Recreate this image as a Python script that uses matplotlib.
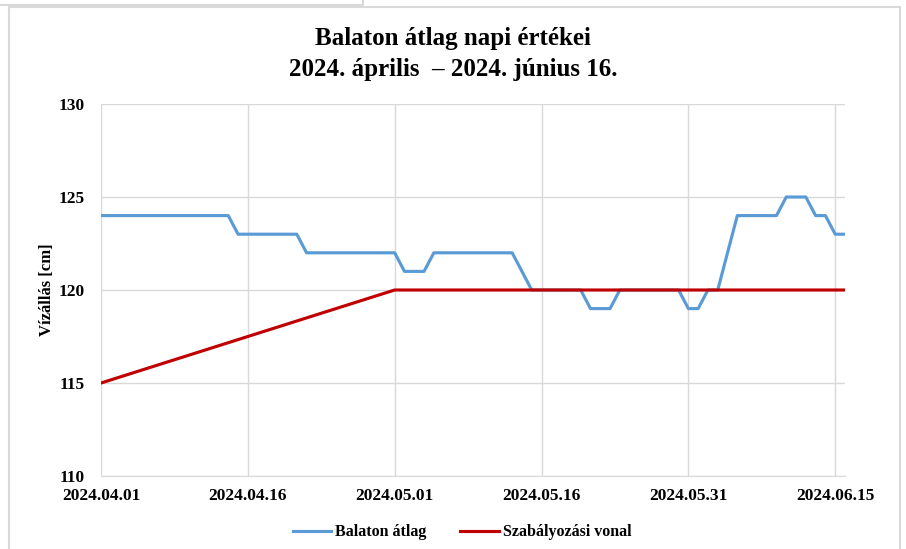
import numpy as np
import pandas as pd
import matplotlib
matplotlib.use("Agg")
import matplotlib.pyplot as plt
import matplotlib.dates as mdates
from matplotlib.lines import Line2D
from matplotlib.patches import Rectangle

# Balaton átlag napi értékei, 2024.04.01 - 2024.06.16
dates = pd.date_range("2024-04-01", "2024-06-16", freq="D")
balaton = ([124] * 14 + [123] * 7 + [122] * 10 + [121] * 3 + [122] * 9 + [121]
           + [120] * 6 + [119] * 3 + [120] * 7 + [119] * 2 + [120] * 2 + [122]
           + [124] * 5 + [125] * 3 + [124] * 2 + [123] * 2)

# Szabályozási vonal (töréspontok)
reg_dates = pd.to_datetime(["2024-04-01", "2024-05-01", "2024-06-16"])
reg_values = [115, 120, 120]

tick_dates = pd.to_datetime(["2024-04-01", "2024-04-16", "2024-05-01",
                             "2024-05-16", "2024-05-31", "2024-06-15"])
y_ticks = [110, 115, 120, 125, 130]

plt.rcParams['font.family'] = ['Liberation Serif', 'DejaVu Serif']
plt.rcParams['font.weight'] = 'bold'

fig = plt.figure(figsize=(9.06, 5.49), dpi=100)
ax = fig.add_axes([101 / 906, 1 - 476 / 549, 744 / 906, 372 / 549])

ax.plot(dates, balaton, color="#5b9bd5", lw=2.25, label="Balaton átlag",
        solid_joinstyle="round")
ax.plot(reg_dates, reg_values, color="#c00000", lw=2.25, label="Szabályozási vonal")

ax.set_xlim(dates[0], dates[-1])
ax.set_ylim(110, 130)
ax.set_yticks(y_ticks)
ax.set_xticks(tick_dates)
ax.xaxis.set_major_formatter(mdates.DateFormatter("%Y.%m.%d"))
ax.grid(True, color="#d9d9d9", lw=1)
ax.set_axisbelow(True)
for s in ["top", "right", "left"]:
    ax.spines[s].set_visible(False)
ax.spines["bottom"].set_color("#d9d9d9")
ax.tick_params(length=0, labelsize=12.5, pad=9)
ax.tick_params(axis="y", pad=12)
for lab in ax.get_xticklabels() + ax.get_yticklabels():
    lab.set_fontweight("bold")

ax.set_ylabel("Vízállás [cm]", fontsize=12, fontweight="bold", labelpad=2)
fig.suptitle("Balaton átlag napi értékei\n2024. április  – 2024. június 16.",
             x=0.5, y=1 - 54 / 549, va="center", fontsize=18, fontweight="bold",
             linespacing=1.45)

fig.legend(loc="lower center", bbox_to_anchor=(0.51, -0.01), ncol=2, frameon=False,
           prop={"weight": "bold", "size": 11.5}, handlelength=2.4,
           handletextpad=0.25, columnspacing=2.1)

# keret
fig.patches.append(Rectangle((9 / 906, -0.05), 891 / 906, 1 - 7 / 549 + 0.05,
                             transform=fig.transFigure, fill=False,
                             edgecolor="#d9d9d9", lw=1.5))
fig.lines.append(Line2D([0, 363 / 906, 363 / 906], [1 - 5 / 549, 1 - 5 / 549, 1],
                        transform=fig.transFigure, color="#d9d9d9", lw=1.5))

fig.savefig("out.png", dpi=100)
